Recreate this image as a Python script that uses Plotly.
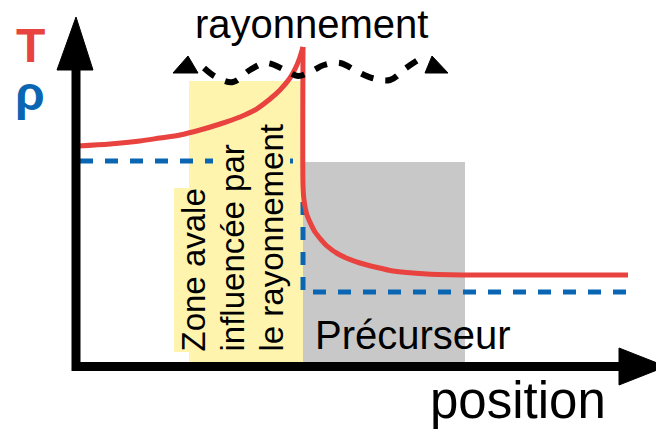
import plotly.graph_objects as go

# ---- schematic data (position, level measured downward in figure units) ----
T_pos_up = [78, 110, 140, 160, 180, 200, 220, 240, 255, 270, 280, 290, 296, 300, 303]
T_val_up = [146, 144, 141, 138, 135, 130, 124, 117, 110, 99, 90, 78, 67, 57, 47]
T_pos_down = [303, 303, 304, 307, 315, 327, 340, 360, 393, 427, 470, 628]
T_val_down = [47, 185, 200, 215, 232, 246, 255, 263, 271, 274, 275, 275]

rho_pos_up = [80, 300]
rho_val_up = [161, 161]
rho_pos_down = [303, 303, 628]
rho_val_down = [202, 292, 292]

wave_pos = [204, 216, 233, 250, 266, 285, 298, 312, 324, 340, 358, 372, 390, 406, 418]
wave_val = [68, 77, 82, 70, 63, 70, 76, 71, 65, 63, 72, 78, 80, 68, 60]

wave_head_left_x = [173, 188, 198, 173]
wave_head_left_y = [73, 56, 73, 73]
wave_head_right_x = [425, 432, 448, 425]
wave_head_right_y = [73, 56, 73, 73]

yaxis_shaft_x = [76, 76]
yaxis_shaft_y = [70, 371]
yaxis_head_x = [57, 76, 93, 57]
yaxis_head_y = [70, 17, 70, 70]
xaxis_shaft_x = [72, 622]
xaxis_shaft_y = [366.5, 366.5]
xaxis_head_x = [619, 666, 619, 619]
xaxis_head_y = [348, 366.5, 385, 348]

zone_rad_x = [189, 303]
zone_rad_y = [81, 362]
zone_prec_x = [303, 465]
zone_prec_y = [162, 362]

zone_labels = ["Zone avale", "influencée par", "le rayonnement"]
zone_label_x = [193, 232, 271]

RED = "#e8433f"
BLUE = "#0a66b2"
YELLOW = "#fff4ae"
GREY = "#c8c8c8"
FONT = "Liberation Sans, Arial, sans-serif"

PAGE_OFFSET = 8  # default page margin of the html body

fig = go.Figure()

# rho (dashed blue)
for xs, ys in [(rho_pos_up, rho_val_up), (rho_pos_down, rho_val_down)]:
    fig.add_trace(go.Scatter(x=xs, y=ys, mode="lines",
                             line=dict(color=BLUE, width=5, dash="13px,12px"),
                             hoverinfo="skip", showlegend=False))

# T (red)
fig.add_trace(go.Scatter(x=T_pos_up, y=T_val_up, mode="lines",
                         line=dict(color=RED, width=5, shape="spline", smoothing=0.8),
                         hoverinfo="skip", showlegend=False))
fig.add_trace(go.Scatter(x=T_pos_down, y=T_val_down, mode="lines",
                         line=dict(color=RED, width=5, shape="spline", smoothing=0.6),
                         hoverinfo="skip", showlegend=False))

# radiation wave
fig.add_trace(go.Scatter(x=wave_pos, y=wave_val, mode="lines",
                         line=dict(color="black", width=6, dash="13px,12px",
                                   shape="spline", smoothing=1.0),
                         hoverinfo="skip", showlegend=False))
for xs, ys in [(wave_head_left_x, wave_head_left_y), (wave_head_right_x, wave_head_right_y),
               (yaxis_head_x, yaxis_head_y), (xaxis_head_x, xaxis_head_y)]:
    fig.add_trace(go.Scatter(x=xs, y=ys, mode="lines", fill="toself", fillcolor="black",
                             line=dict(color="black", width=1),
                             hoverinfo="skip", showlegend=False))

# axes
for xs, ys in [(yaxis_shaft_x, yaxis_shaft_y), (xaxis_shaft_x, xaxis_shaft_y)]:
    fig.add_trace(go.Scatter(x=xs, y=ys, mode="lines",
                             line=dict(color="black", width=9),
                             hoverinfo="skip", showlegend=False))

# zones
fig.add_shape(type="rect", x0=zone_rad_x[0], x1=zone_rad_x[1], y0=zone_rad_y[0], y1=zone_rad_y[1],
              fillcolor=YELLOW, line=dict(width=0), layer="below")
fig.add_shape(type="rect", x0=zone_prec_x[0], x1=zone_prec_x[1], y0=zone_prec_y[0], y1=zone_prec_y[1],
              fillcolor=GREY, line=dict(width=0), layer="below")

# labels
for txt, xc in zip(zone_labels, zone_label_x):
    fig.add_annotation(x=xc, y=353, text=txt, textangle=-90, showarrow=False,
                       xanchor="center", yanchor="bottom", bgcolor=YELLOW, borderpad=0,
                       font=dict(family=FONT, size=33, color="black"))

fig.add_annotation(x=311, y=24, text="rayonnement", showarrow=False,
                   font=dict(family=FONT, size=40, color="black"))
fig.add_annotation(x=413, y=335, text="Précurseur", showarrow=False,
                   font=dict(family=FONT, size=40, color="black"))
fig.add_annotation(x=518, y=400, text="position", showarrow=False,
                   font=dict(family=FONT, size=51, color="black"))
fig.add_annotation(x=30, y=45, text="<b>T</b>", showarrow=False,
                   font=dict(family=FONT, size=48, color=RED))
fig.add_annotation(x=30, y=93, text="<b>ρ</b>", showarrow=False,
                   font=dict(family=FONT, size=48, color=BLUE))

W, H = 664, 434
fig.update_layout(width=W - PAGE_OFFSET, height=H - PAGE_OFFSET,
                  margin=dict(l=0, r=0, t=0, b=0),
                  paper_bgcolor="white", plot_bgcolor="white",
                  xaxis=dict(range=[PAGE_OFFSET, W], visible=False, fixedrange=True),
                  yaxis=dict(range=[H, PAGE_OFFSET], visible=False, fixedrange=True),
                  showlegend=False)

fig.write_html("out.html")
